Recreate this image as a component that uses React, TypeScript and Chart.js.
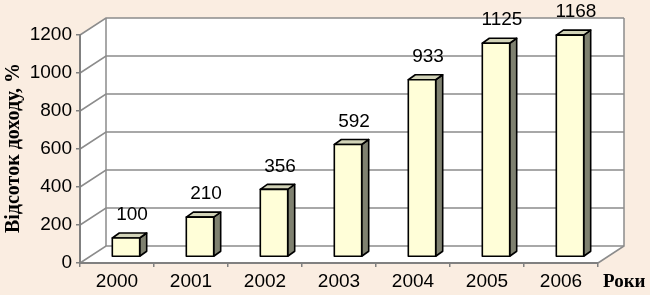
import React, { useEffect, useRef } from "react";
import { Chart, registerables } from "chart.js";

Chart.register(...registerables);

const years = ["2000", "2001", "2002", "2003", "2004", "2005", "2006"];
const incomePct = [100, 210, 356, 592, 933, 1125, 1168];
const yTickValues = [0, 200, 400, 600, 800, 1000, 1200];
const yTitle = "Відсоток доходу, %";
const xTitle = "Роки";

const WALL = { dx: 26, dy: -17 };
const BAR_SHIFT = { dx: 9, dy: -6 };
const BAR_DEPTH = { dx: 7, dy: -5 };
const GRID_COLOR = "#8c8c8c";
const BG = "#FAEDE1";

function poly(ctx: CanvasRenderingContext2D, pts: number[][]) {
  ctx.beginPath();
  ctx.moveTo(pts[0][0], pts[0][1]);
  for (let i = 1; i < pts.length; i++) ctx.lineTo(pts[i][0], pts[i][1]);
  ctx.closePath();
}

const wallsPlugin = {
  id: "walls",
  beforeDraw(chart: any) {
    const { ctx, chartArea, scales } = chart;
    const { left, right, top, bottom } = chartArea;
    const y = scales.y;
    const dx = WALL.dx, dy = WALL.dy;
    ctx.save();
    ctx.fillStyle = BG;
    ctx.fillRect(0, 0, chart.width, chart.height);
    ctx.fillStyle = "#ffffff";
    poly(ctx, [[left + dx, top + dy], [right + dx, top + dy], [right + dx, bottom + dy], [left + dx, bottom + dy]]);
    ctx.fill();
    poly(ctx, [[left, top], [left + dx, top + dy], [left + dx, bottom + dy], [left, bottom]]);
    ctx.fill();
    poly(ctx, [[left, bottom], [right, bottom], [right + dx, bottom + dy], [left + dx, bottom + dy]]);
    ctx.fill();

    ctx.strokeStyle = GRID_COLOR;
    ctx.lineWidth = 1.5;
    yTickValues.forEach((v) => {
      const py = y.getPixelForValue(v);
      ctx.beginPath();
      ctx.moveTo(left, py);
      ctx.lineTo(left + dx, py + dy);
      ctx.lineTo(right + dx, py + dy);
      ctx.stroke();
    });
    ctx.beginPath();
    ctx.moveTo(left + dx, top + dy);
    ctx.lineTo(left + dx, bottom + dy);
    ctx.moveTo(right + dx, top + dy);
    ctx.lineTo(right + dx, bottom + dy);
    ctx.lineTo(right, bottom);
    ctx.stroke();

    // titles
    ctx.fillStyle = "#000";
    ctx.font = 'bold 20px "Liberation Serif", "Times New Roman", serif';
    ctx.textAlign = "center";
    ctx.textBaseline = "middle";
    ctx.translate(14, 148);
    ctx.rotate(-Math.PI / 2);
    ctx.fillText(yTitle, 0, 0);
    ctx.restore();

    ctx.save();
    ctx.fillStyle = "#000";
    ctx.font = 'bold 19px "Liberation Serif", "Times New Roman", serif';
    ctx.textAlign = "left";
    ctx.textBaseline = "middle";
    ctx.fillText(xTitle, 603, 282);
    ctx.restore();
  },
};

const bars3dPlugin = {
  id: "bars3d",
  afterDatasetsDraw(chart: any) {
    const { ctx } = chart;
    const meta = chart.getDatasetMeta(0);
    const ds = chart.data.datasets[0];
    ctx.save();
    ctx.lineWidth = 1.6;
    ctx.strokeStyle = "#000";
    ctx.lineJoin = "round";
    meta.data.forEach((el: any, i: number) => {
      const { x, y, base, width } = el.getProps(["x", "y", "base", "width"], true);
      const x0 = x - width / 2 + BAR_SHIFT.dx;
      const x1 = x + width / 2 + BAR_SHIFT.dx;
      const yt = y + BAR_SHIFT.dy;
      const yb = base + BAR_SHIFT.dy;
      const bx = BAR_DEPTH.dx, by = BAR_DEPTH.dy;
      // side
      poly(ctx, [[x1, yt], [x1 + bx, yt + by], [x1 + bx, yb + by], [x1, yb]]);
      ctx.fillStyle = "#7f8170";
      ctx.fill();
      ctx.stroke();
      // top
      poly(ctx, [[x0, yt], [x0 + bx, yt + by], [x1 + bx, yt + by], [x1, yt]]);
      ctx.fillStyle = "#d2d3b8";
      ctx.fill();
      ctx.stroke();
      // front
      poly(ctx, [[x0, yt], [x1, yt], [x1, yb], [x0, yb]]);
      ctx.fillStyle = "#FFFED8";
      ctx.fill();
      ctx.stroke();
      // label
      ctx.fillStyle = "#000";
      ctx.font = '19px "Liberation Sans", Arial, sans-serif';
      ctx.textAlign = "center";
      ctx.textBaseline = "middle";
      ctx.fillText(String(ds.data[i]), (x0 + x1) / 2 + 6, yt - 23);
    });
    ctx.restore();
  },
};

export default function App() {
  const canvasRef = useRef<HTMLCanvasElement | null>(null);

  useEffect(() => {
    if (!canvasRef.current) return;
    const chart = new Chart(canvasRef.current, {
      type: "bar",
      data: {
        labels: years,
        datasets: [
          {
            data: incomePct,
            backgroundColor: "rgba(0,0,0,0)",
            borderWidth: 0,
            barPercentage: 0.37,
            categoryPercentage: 1,
          },
        ],
      },
      options: {
        responsive: false,
        animation: false,
        devicePixelRatio: 1,
        layout: { padding: { left: 0, top: 35, right: 52, bottom: 0 } },
        plugins: { legend: { display: false }, tooltip: { enabled: false } },
        scales: {
          x: {
            afterFit: (s: any) => {
              s.height = 32;
            },
            grid: {
              drawOnChartArea: false,
              drawTicks: true,
              tickLength: 4,
              color: "#808080",
              lineWidth: 1.5,
              offset: true,
            },
            border: { display: true, color: "#808080", width: 2 },
            ticks: {
              color: "#000",
              padding: 3,
              font: { family: '"Liberation Sans", Arial, sans-serif', size: 19 },
            },
          },
          y: {
            min: 0,
            max: 1200,
            afterFit: (s: any) => {
              s.width = 80;
            },
            afterBuildTicks: (s: any) => {
              s.ticks = yTickValues.map((v) => ({ value: v }));
            },
            grid: {
              drawOnChartArea: false,
              drawTicks: true,
              tickLength: 4,
              color: "#808080",
              lineWidth: 1.5,
            },
            border: { display: true, color: "#808080", width: 2 },
            ticks: {
              color: "#000",
              padding: 4,
              callback: (v: any) => String(v),
              font: { family: '"Liberation Sans", Arial, sans-serif', size: 19 },
            },
          },
        },
      },
      plugins: [wallsPlugin, bars3dPlugin],
    });
    return () => chart.destroy();
  }, []);

  return (
    <div style={{ position: "fixed", left: 0, top: 0, width: 650, height: 295, background: BG }}>
      <canvas ref={canvasRef} width={650} height={295} style={{ display: "block" }} />
    </div>
  );
}
